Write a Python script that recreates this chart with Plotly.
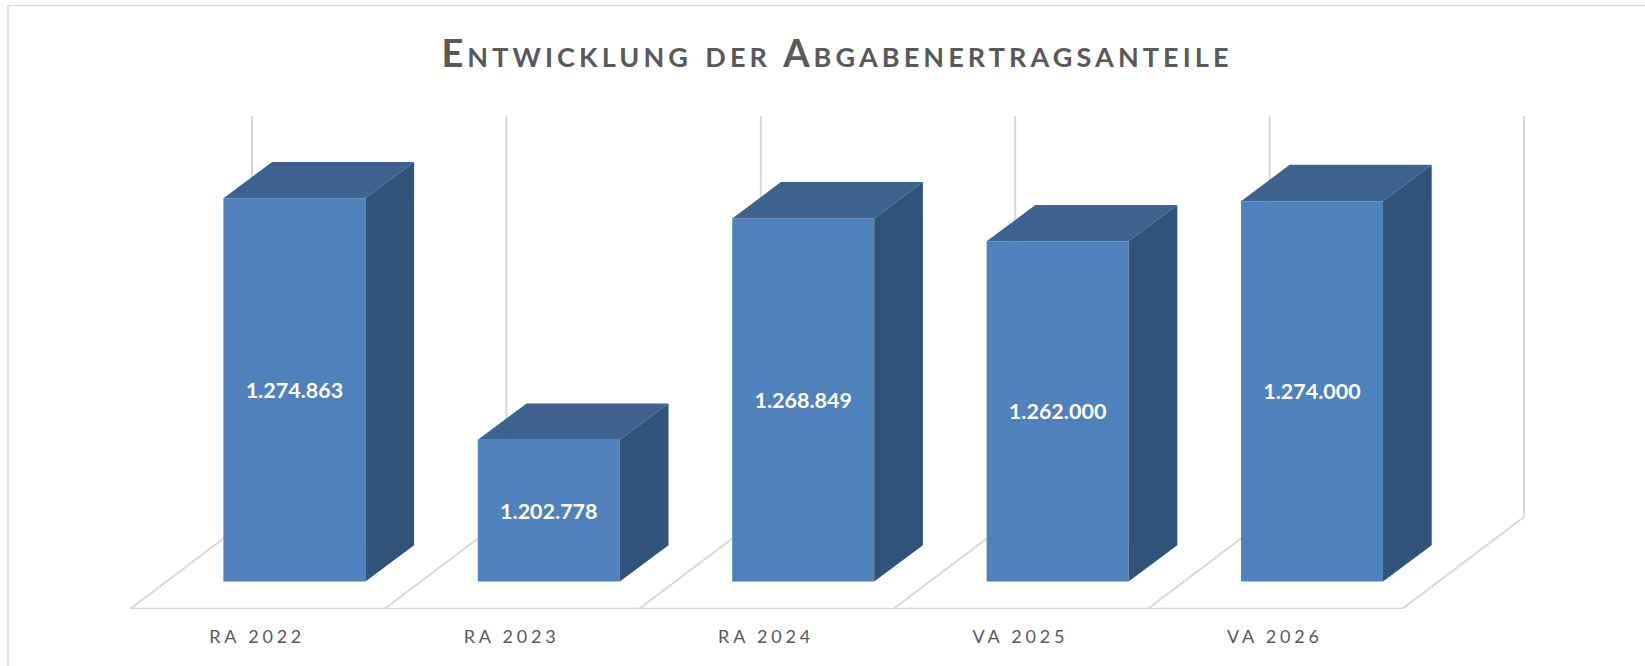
import plotly.graph_objects as go

# --- data ---
categories = ["RA 2022", "RA 2023", "RA 2024", "VA 2025", "VA 2026"]
values = [1274863, 1202778, 1268849, 1262000, 1274000]
title_text = "Entwicklung der Abgabenertragsanteile"

# --- layout constants (pixels of the 1645x666 page) ---
W, H = 1645, 666
PL, PR, PT, PB = 130, 1530, 116, 609   # plot area
SLOT = 254.4                           # px per category
UNITS_PER_PX = 298.4                   # value units per vertical px
BAR_BASE = 1160500                     # axis value at the front foot of the bars
BAR_FOOT_PX = 27.5                     # bar foot above the floor's front edge
BAR_W = 142 / SLOT
BAR_SHIFT = 37.2 / SLOT
DEPTH_X = 48.7 / SLOT
DEPTH_Y = 36.3 * UNITS_PER_PX
WALL_X = 122 / SLOT
WALL_Y = 92 * UNITS_PER_PX

FRONT, TOP, SIDE = "#4F81BD", "#3E6390", "#325379"
GRID = "#D9D9D9"
TEXT = "#595959"

y_min = BAR_BASE - BAR_FOOT_PX * UNITS_PER_PX
y_max = y_min + (PB - PT) * UNITS_PER_PX
x_min = -0.5
x_max = x_min + (PR - PL) / SLOT


def px_x(p):
    return (p - PL) / (PR - PL)


def px_y(p):
    return (PB - p) / (PB - PT)


fig = go.Figure()

# front faces
fig.add_trace(go.Bar(
    x=list(range(len(categories))),
    y=[v - BAR_BASE for v in values],
    base=BAR_BASE,
    width=BAR_W,
    offset=BAR_SHIFT - BAR_W / 2,
    marker=dict(color=FRONT, line=dict(width=0)),
    text=[f"{v:,}".replace(",", ".") for v in values],
    textposition="inside",
    insidetextanchor="middle",
    textangle=0,
    constraintext="none",
    textfont=dict(family="Lato", size=21.5, color="white", weight="bold"),
    hoverinfo="skip",
))

# top and side faces derived from the values
for i, v in enumerate(values):
    left = i + BAR_SHIFT - BAR_W / 2
    right = left + BAR_W
    fig.add_trace(go.Scatter(
        x=[left, right, right + DEPTH_X, left + DEPTH_X, left],
        y=[v, v, v + DEPTH_Y, v + DEPTH_Y, v],
        mode="lines", line=dict(width=0), fill="toself", fillcolor=TOP, hoverinfo="skip",
    ))
    fig.add_trace(go.Scatter(
        x=[right, right + DEPTH_X, right + DEPTH_X, right, right],
        y=[BAR_BASE, BAR_BASE + DEPTH_Y, v + DEPTH_Y, v, BAR_BASE],
        mode="lines", line=dict(width=0), fill="toself", fillcolor=SIDE, hoverinfo="skip",
    ))

# floor and back-wall lines
shapes = []
line = dict(color=GRID, width=2)
for k in range(len(categories) + 1):
    fx = k - 0.5
    shapes.append(dict(type="line", layer="below", xref="x", yref="y", x0=fx, x1=fx + WALL_X,
                       y0=y_min, y1=y_min + WALL_Y, line=line))
    shapes.append(dict(type="line", layer="below", xref="x", yref="y", x0=fx + WALL_X, x1=fx + WALL_X,
                       y0=y_min + WALL_Y, y1=y_max, line=line))
shapes.append(dict(type="line", layer="below", xref="x", yref="y", x0=-0.5, x1=len(categories) - 0.5,
                   y0=y_min, y1=y_min, line=dict(color=GRID, width=2.5)))
# chart-area frame (only its top and left edges are in view)
shapes.append(dict(type="line", layer="below", xref="paper", yref="paper",
                   x0=px_x(8), x1=px_x(W), y0=px_y(5.5), y1=px_y(5.5), line=dict(color=GRID, width=1.5)))
shapes.append(dict(type="line", layer="below", xref="paper", yref="paper",
                   x0=px_x(8), x1=px_x(8), y0=px_y(5.5), y1=px_y(H), line=dict(color=GRID, width=1.5)))

fig.update_layout(
    width=W, height=H,
    margin=dict(l=PL, r=W - PR, t=PT, b=H - PB, pad=0),
    paper_bgcolor="white", plot_bgcolor="white",
    showlegend=False,
    barmode="overlay",
    shapes=shapes,
    title=dict(
        text=f'<span style="letter-spacing:4.1px">{title_text}</span>',
        x=837 / W, xref="container", xanchor="center",
        y=1 - 54 / H, yref="container", yanchor="middle",
        font=dict(family="Lato", size=38, color=TEXT, weight="bold", variant="small-caps"),
    ),
    xaxis=dict(
        range=[x_min, x_max], tickmode="array",
        tickvals=list(range(len(categories))),
        ticktext=[f'<span style="letter-spacing:3.8px">{c}</span>' for c in categories],
        tickfont=dict(family="Lato", size=18, color=TEXT),
        showgrid=False, zeroline=False, showline=False, ticks="",
        ticklabelstandoff=15, fixedrange=True,
    ),
    yaxis=dict(range=[y_min, y_max], visible=False, fixedrange=True),
)

fig.write_html("out.html", post_script="document.body.style.margin='0';", config={"displayModeBar": False})
